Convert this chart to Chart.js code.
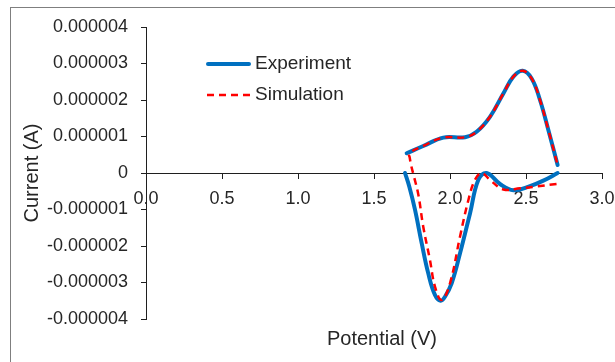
<!DOCTYPE html>
<html>
<head>
<meta charset="utf-8">
<script src="https://cdn.jsdelivr.net/npm/chart.js@4"></script>
<style>
    body { margin: 0; overflow: hidden; background: #fff; }
    #frame { position: absolute; left: 10px; top: 7px; width: 700px; height: 400px; border: 1px solid #7f7f7f; }
    #chart { position: absolute; left: 0; top: 0; }
</style>
</head>
<body>
<div id="frame"></div>
<canvas id="chart" width="615" height="362"></canvas>
<script>
// Values, current in microamps
const MICRO = 1e-6;

// Experiment, forward sweep (upper branch)
const expUpV = [1.715, 1.824, 1.956, 2.099, 2.175, 2.263, 2.351, 2.417, 2.478, 2.537, 2.592, 2.647, 2.708];
const expUpI = [0.54, 0.74, 0.97, 0.98, 1.13, 1.54, 2.18, 2.64, 2.80, 2.59, 2.00, 1.18, 0.22];

// Experiment, reverse sweep (lower branch)
const expDownV = [2.708, 2.614, 2.526, 2.417, 2.329, 2.241, 2.186, 2.132, 2.066, 2.011, 1.967, 1.939, 1.901, 1.857, 1.814, 1.770, 1.732, 1.704];
const expDownI = [0.00, -0.21, -0.36, -0.47, -0.30, 0.00, -0.19, -1.10, -2.20, -3.02, -3.39, -3.50, -3.34, -2.75, -1.93, -1.01, -0.37, 0.00];

// Simulation, one continuous trace
const simV = [2.701, 2.570, 2.461, 2.351, 2.263, 2.208, 2.164, 2.121, 2.066, 2.000, 1.945, 1.901, 1.868, 1.824, 1.792, 1.762, 1.745, 1.735, 1.732,
              1.824, 1.956, 2.099, 2.175, 2.263, 2.351, 2.417, 2.478, 2.537, 2.592, 2.647, 2.708];
const simI = [-0.30, -0.37, -0.42, -0.45, -0.19, 0.00, -0.19, -0.74, -1.74, -3.02, -3.48, -3.11, -2.38, -1.47, -0.60, -0.08, 0.20, 0.42, 0.54,
              0.74, 0.97, 0.98, 1.13, 1.54, 2.18, 2.64, 2.80, 2.59, 2.00, 1.18, 0.22];

const xTicks = [0, 0.5, 1.0, 1.5, 2.0, 2.5, 3.0];
const yTicks = [-4, -3, -2, -1, 0, 1, 2, 3, 4];

const seriesNames = ['Experiment', 'Simulation'];
const blue = '#0070C0';
const red = '#FF0000';
const axisColor = '#1f1f1f';
const textColor = '#262626';

function toPoints(vs, is) {
    return vs.map((v, k) => ({ x: v, y: is[k] * MICRO }));
}

// gap between the two branches, as in the original
const expData = toPoints(expUpV, expUpI).concat([{ x: null, y: null }], toPoints(expDownV, expDownI));
const simData = toPoints(simV, simI);

// legend and x title drawn inside the plot like the original
const extrasPlugin = {
    id: 'extras',
    afterDraw(chart) {
        const ctx = chart.ctx;
        ctx.save();
        ctx.textBaseline = 'middle';
        ctx.fillStyle = textColor;
        ctx.font = '19px "Liberation Sans", Arial, sans-serif';

        // Experiment
        ctx.strokeStyle = blue;
        ctx.lineWidth = 4;
        ctx.lineCap = 'round';
        ctx.beginPath();
        ctx.moveTo(208, 64);
        ctx.lineTo(249, 64);
        ctx.stroke();
        ctx.fillText(seriesNames[0], 255, 64);

        // Simulation
        ctx.strokeStyle = red;
        ctx.lineWidth = 2.5;
        ctx.lineCap = 'butt';
        ctx.setLineDash([7, 5]);
        ctx.beginPath();
        ctx.moveTo(207, 95);
        ctx.lineTo(251, 95);
        ctx.stroke();
        ctx.setLineDash([]);
        ctx.fillText(seriesNames[1], 255, 95);

        // x axis title
        ctx.font = '20px "Liberation Sans", Arial, sans-serif';
        ctx.textAlign = 'center';
        ctx.fillText('Potential (V)', 382, 339);
        ctx.restore();
    }
};

const ctx = document.getElementById('chart').getContext('2d');
new Chart(ctx, {
    type: 'scatter',
    data: {
        datasets: [
            {
                label: seriesNames[0],
                data: expData,
                showLine: true,
                borderColor: blue,
                backgroundColor: blue,
                borderWidth: 4,
                borderCapStyle: 'round',
                borderJoinStyle: 'round',
                pointRadius: 0,
                tension: 0.4,
                spanGaps: false,
                order: 1
            },
            {
                label: seriesNames[1],
                data: simData,
                showLine: true,
                borderColor: red,
                backgroundColor: red,
                borderWidth: 2.5,
                borderDash: [7, 5],
                pointRadius: 0,
                tension: 0.4,
                order: 0
            }
        ]
    },
    options: {
        responsive: false,
        animation: false,
        layout: {
            padding: { left: 0, top: 27, right: 13, bottom: 43 }
        },
        scales: {
            x: {
                type: 'linear',
                position: { y: 0 },
                min: 0,
                max: 3,
                afterBuildTicks: scale => { scale.ticks = xTicks.map(v => ({ value: v })); },
                afterFit: scale => {
                    scale.height = 0;
                    scale.paddingLeft = 0;
                    scale.paddingRight = 0;
                },
                grid: { display: true, drawOnChartArea: false, drawTicks: true, tickLength: 5, color: axisColor },
                border: { display: true, color: axisColor, width: 1 },
                ticks: {
                    padding: 10,
                    maxRotation: 0,
                    color: textColor,
                    font: { family: '"Liberation Sans", Arial, sans-serif', size: 18 },
                    callback: v => v.toFixed(1)
                }
            },
            y: {
                type: 'linear',
                position: 'left',
                min: -4 * MICRO,
                max: 4 * MICRO,
                afterBuildTicks: scale => { scale.ticks = yTicks.map(v => ({ value: v * MICRO })); },
                afterFit: scale => {
                    scale.width = 146;
                    scale.paddingTop = 0;
                    scale.paddingBottom = 0;
                },
                grid: { display: true, drawOnChartArea: false, drawTicks: true, tickLength: 5, color: axisColor },
                border: { display: true, color: axisColor, width: 1 },
                title: {
                    display: true,
                    text: 'Current (A)',
                    color: textColor,
                    padding: { top: 20, bottom: 0 },
                    font: { family: '"Liberation Sans", Arial, sans-serif', size: 20 }
                },
                ticks: {
                    padding: 13,
                    color: textColor,
                    font: { family: '"Liberation Sans", Arial, sans-serif', size: 18 },
                    callback: v => {
                        const n = Math.round(v / MICRO);
                        return n === 0 ? '0' : (n * MICRO).toFixed(6);
                    }
                }
            }
        },
        plugins: {
            legend: { display: false },
            tooltip: { enabled: false }
        }
    },
    plugins: [extrasPlugin]
});
</script>
</body>
</html>
